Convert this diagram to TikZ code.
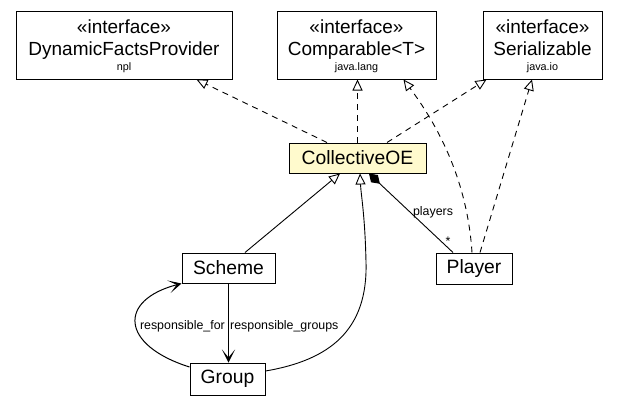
\documentclass[tikz,border=0pt]{standalone}
\usepackage{fontspec}
\setmainfont{Liberation Sans}
\usetikzlibrary{arrows.meta}
\definecolor{classyellow}{RGB}{255,250,205}
\begin{document}
\begin{tikzpicture}[x=1pt,y=-1pt,
  box/.style={draw, line width=1pt, inner sep=0pt},
  cname/.style={font=\fontsize{19.3}{22}\selectfont},
  stereo/.style={font=\fontsize{19}{22}\selectfont, anchor=base, inner sep=0pt},
  pkg/.style={font=\fontsize{10.8}{12}\selectfont, anchor=base, inner sep=0pt},
  elabel/.style={font=\fontsize{12.4}{14}\selectfont, inner sep=0pt},
  real/.style={dash pattern=on 6pt off 5pt, line width=0.9pt, -{Triangle[open,length=11pt,width=10pt]}},
  gen/.style={line width=0.9pt, -{Triangle[open,length=11pt,width=10pt]}},
  nav/.style={line width=1pt, -{Stealth[length=13pt,width=13pt,inset=8pt]}},
  comp/.style={line width=0.9pt, {Diamond[length=15pt,width=10pt]}-}
]
\useasboundingbox[fill=white] (0,0) rectangle (619,408);

% interface boxes
\node[box, minimum width=216pt, minimum height=68pt] (dfp) at (124,45) {};
\node[stereo] (dfps) at (124,33) {«interface»};
\node[stereo] (dfpn) at (124,55) {DynamicFactsProvider};
\node[pkg] (dfpp) at (124,70) {npl};

\node[box, minimum width=159pt, minimum height=68pt] (cmp) at (356.5,45) {};
\node[stereo] (cmps) at (356.5,33) {«interface»};
\node[stereo] (cmpn) at (356.5,55) {Comparable<T>};
\node[pkg] (cmpp) at (356.5,70) {java.lang};

\node[box, minimum width=119pt, minimum height=68pt] (ser) at (542.5,45) {};
\node[stereo] (sers) at (542.5,33) {«interface»};
\node[stereo] (sern) at (542.5,55) {Serializable};
\node[pkg] (serp) at (542.5,70) {java.io};

% classes
\node[box, cname, fill=classyellow, minimum width=137pt, minimum height=30pt] (coll) at (357.5,158) {CollectiveOE};
\node[box, cname, minimum width=93pt, minimum height=30pt] (scheme) at (228.5,268) {Scheme};
\node[box, cname, minimum width=76pt, minimum height=31pt] (player) at (474,268.5) {Player};
\node[box, cname, minimum width=75pt, minimum height=32pt] (group) at (227.5,379) {Group};

% realizations
\draw[real] ([xshift=-30.5pt]coll.north) -- ([xshift=-36pt]dfp.south east);
\draw[real] (coll.north) -- (coll.north |- cmp.south);
\draw[real] ([xshift=29.5pt]coll.north) -- ([xshift=4pt]ser.south west);
\draw[real] ([xshift=-2pt]player.north) .. controls (468,190) and (445,135) .. ([xshift=-33pt]cmp.south east);
\draw[real] ([xshift=6pt]player.north) -- ([xshift=-10.5pt]ser.south);

% generalizations
\draw[gen] ([xshift=16.5pt]scheme.north) -- ([xshift=-17.5pt]coll.south);
\draw[gen] ([yshift=8pt]group.east) .. controls (330,360) and (368,330) .. (366,262) .. controls (365,215) and (361,195) .. ([xshift=2.5pt]coll.south);

% composition
\draw[comp] ([xshift=11.5pt]coll.south) -- ([xshift=-21pt]player.north);
\node[elabel] (plab) at (433,212) {players};
\node[elabel] (mult) at (448,241) {*};

% associations
\draw[nav] (scheme.south) -- (scheme.south |- group.north);
\draw[nav] ([yshift=12pt]group.west) .. controls (120,345) and (118,300) .. (scheme.south west);
\node[elabel, anchor=east] (rfor) at (225,326) {responsible\_for};
\node[elabel, anchor=west] (rgrp) at (230,326) {responsible\_groups};
\end{tikzpicture}
\end{document}
